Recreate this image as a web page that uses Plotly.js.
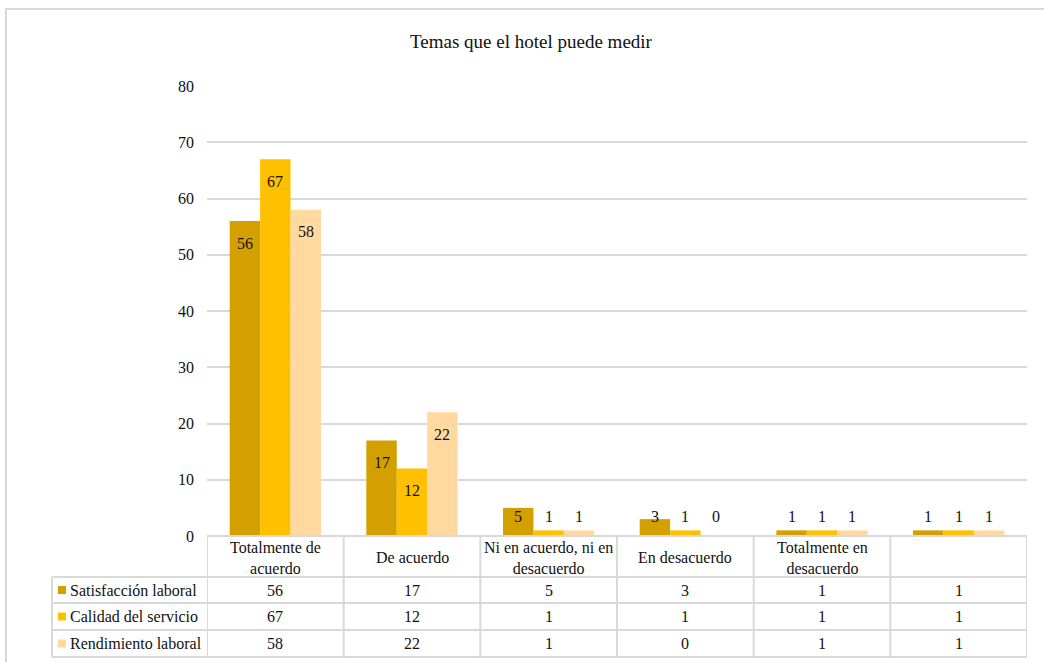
<!DOCTYPE html>
<html>
<head>
<meta charset="utf-8">
<script src="https://cdn.plot.ly/plotly-3.0.1.min.js"></script>
<style>
  html, body { margin: 0; padding: 0; background: #ffffff; }
  #chart { width: 1044px; height: 662px; }
</style>
</head>
<body>
<div id="chart"></div>
<script>
// Response categories (table header text, wrapped as in the data table)
const categories = [
  "Totalmente de<br>acuerdo",
  "De acuerdo",
  "Ni en acuerdo, ni en<br>desacuerdo",
  "En desacuerdo",
  "Totalmente en<br>desacuerdo",
  ""
];

// Series
const seriesNames = ["Satisfacción laboral", "Calidad del servicio", "Rendimiento laboral"];
const satisfaccion = [56, 17, 5, 3, 1, 1];
const calidad      = [67, 12, 1, 1, 1, 1];
const rendimiento  = [58, 22, 1, 0, 1, 1];
const seriesValues = [satisfaccion, calidad, rendimiento];
const seriesColors = ["#D4A000", "#FFC000", "#FFD9A0"];

const yTicks = [0, 10, 20, 30, 40, 50, 60, 70, 80];

// Geometry of the plotting area (pixels)
const W = 1044, H = 662;
const L = 207, R = 1027, T = 86, B = 536;
const Y_MAX = 80;
const BARGAP = 0.332;
const pxPerUnit = (B - T) / Y_MAX;
const FONT = "Times New Roman, Liberation Serif, DejaVu Serif, serif";
const GRID = "#d9d9d9";
const INK = "#111111";

function px(xp) { return (xp - L) / (R - L); }
function py(yp) { return (B - yp) / (B - T); }

const xIdx = categories.map((c, i) => i);

const traces = seriesValues.map((vals, k) => ({
  type: "bar",
  name: seriesNames[k],
  x: xIdx,
  y: vals,
  marker: { color: seriesColors[k], line: { width: 0 } },
  hoverinfo: "skip"
}));

const shapes = [];
const annotations = [];

// Data labels on bars
const barW = (1 - BARGAP) / 3;
seriesValues.forEach((vals, k) => {
  vals.forEach((v, i) => {
    const hPx = v * pxPerUnit;
    let shift = -22;
    if (hPx + shift < 20) shift = 20 - hPx;
    annotations.push({
      xref: "x", yref: "y",
      x: i + (k - 1) * barW, y: v,
      yshift: shift,
      text: String(v),
      showarrow: false,
      xanchor: "center", yanchor: "middle",
      font: { family: FONT, size: 16, color: INK }
    });
  });
});

// Outer chart border
shapes.push({
  type: "rect", xref: "paper", yref: "paper",
  x0: px(6), x1: px(1060), y0: py(680), y1: py(9),
  line: { color: GRID, width: 2 }, fillcolor: "rgba(0,0,0,0)", layer: "below"
});

// Data table
const headerTop = 536, rowLines = [577, 603, 630, 657];
const tableLeft = 52;
const line = (x0, y0, x1, y1, xr) => shapes.push({
  type: "line", xref: xr || "paper", yref: "paper",
  x0: x0, y0: py(y0), x1: x1, y1: py(y1),
  line: { color: GRID, width: 2 }
});
line(px(L), headerTop, px(R), headerTop);
rowLines.forEach(yy => line(px(tableLeft), yy, px(R), yy));
line(px(tableLeft), rowLines[0], px(tableLeft), rowLines[3]);
for (let i = 0; i <= categories.length; i++) {
  line(i - 0.5, headerTop, i - 0.5, rowLines[3], "x");
}

// Header row text
categories.forEach((c, i) => {
  annotations.push({
    xref: "x", yref: "paper", x: i, y: py((headerTop + rowLines[0]) / 2 + 1),
    text: c, showarrow: false, xanchor: "center", yanchor: "middle",
    font: { family: FONT, size: 16, color: INK }
  });
});

// Table body: legend key, series name, values
seriesValues.forEach((vals, k) => {
  const top = rowLines[k], bot = rowLines[k + 1];
  const mid = (top + bot) / 2;
  shapes.push({
    type: "rect", xref: "paper", yref: "paper",
    x0: px(58), x1: px(66), y0: py(mid + 4), y1: py(mid - 4),
    fillcolor: seriesColors[k], line: { width: 0 }
  });
  annotations.push({
    xref: "paper", yref: "paper", x: px(68), y: py(mid),
    text: seriesNames[k], showarrow: false, xanchor: "left", yanchor: "middle",
    font: { family: FONT, size: 16, color: INK }
  });
  vals.forEach((v, i) => {
    annotations.push({
      xref: "x", yref: "paper", x: i, y: py(mid),
      text: String(v), showarrow: false, xanchor: "center", yanchor: "middle",
      font: { family: FONT, size: 16, color: INK }
    });
  });
});

const layout = {
  width: W, height: H,
  margin: { l: L, r: W - R, t: T, b: H - B, pad: 0 },
  paper_bgcolor: "#ffffff",
  plot_bgcolor: "#ffffff",
  title: {
    text: "Temas que el hotel puede medir",
    xref: "container", yref: "container",
    x: 531 / W, y: 1 - 41 / H, xanchor: "center", yanchor: "middle",
    font: { family: FONT, size: 19, color: INK }
  },
  barmode: "group",
  bargap: BARGAP,
  bargroupgap: 0,
  showlegend: false,
  xaxis: {
    range: [-0.5, categories.length - 0.5],
    showticklabels: false, showgrid: false, zeroline: false,
    showline: false, ticks: "", fixedrange: true
  },
  yaxis: {
    range: [0, Y_MAX],
    tickvals: yTicks,
    ticktext: yTicks.map(String),
    showgrid: true, gridcolor: GRID, gridwidth: 2,
    zeroline: false, showline: false, ticks: "",
    ticklabelstandoff: 12,
    tickfont: { family: FONT, size: 16, color: INK },
    fixedrange: true
  },
  shapes: shapes,
  annotations: annotations,
  font: { family: FONT }
};

Plotly.newPlot("chart", traces, layout, { displayModeBar: false, staticPlot: true });
</script>
</body>
</html>
